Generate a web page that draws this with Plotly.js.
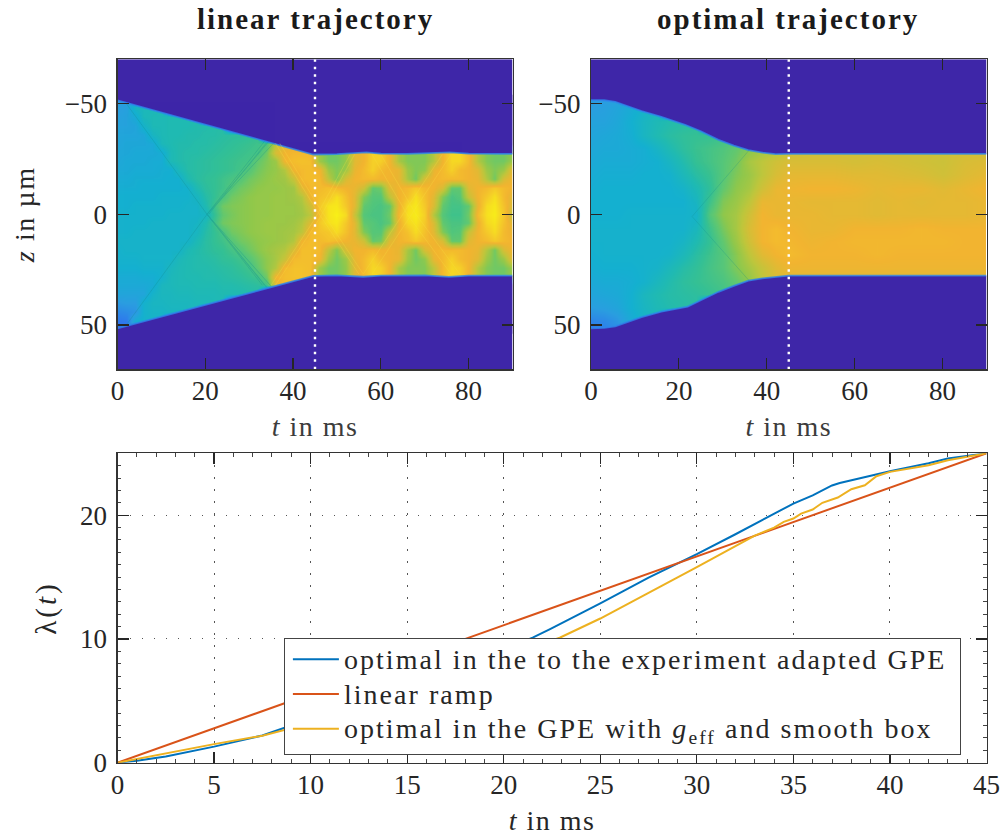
<!DOCTYPE html>
<html><head><meta charset="utf-8">
<script src="https://cdn.plot.ly/plotly-3.0.1.min.js"></script>
<style>
html,body{margin:0;padding:0;background:#fff}
#chart{width:1006px;height:836px}
.legendtext{letter-spacing:2.05px;font-size:28px!important;transform:translate(3px,-2px)}
.legendlines{transform:translate(3px,-2px)}
.legend .bg{width:676px}
.annotation-text{letter-spacing:2px}
.xtitle,.x2title,.x3title{letter-spacing:1.5px}
.ytitle{letter-spacing:1.6px}
.y3title{letter-spacing:3px}
</style></head><body><div id="chart"></div>
<script>
// --- heat maps: density in percent of the colour scale
const linT=[0,2,4,6,8,10,12,14,16,18,20,22,24,26,28,30,32,34,36,38,40,42,44,46,48,50,52,54,56,58,60,62,64,66,68,70,72,74,76,78,80,82,84,86,88,90];
const linZ=[-52,-48,-44,-40,-36,-32,-28,-24,-20,-16,-12,-8,-4,0,4,8,12,16,20,24,28,32,36,40,44,48,52];
const linDensity=[
[27,28,30,38,40],
[28,29,40,42,42,43],
[29,30,34,42,43,43,44,44,44,44],
[30,30,31,38,43,43,44,44,44,45,45,46,46],
[31,31,31,32,40,43,44,44,45,45,46,46,47,48,48,49,50],
[31,32,32,32,33,42,44,45,45,46,46,47,48,49,50,51,52,54,72,80,80,85,85],
[32,32,33,33,33,34,43,45,46,46,47,48,49,50,51,52,53,60,78,84,85,85,85,66,60,60,64,80,84,92,92,84,68,62,62,62,70,84,94,94,86,70,62,60,60,64],
[32,33,33,33,34,34,43,45,46,47,48,49,50,51,52,53,58,62,66,84,87,88,87,66,60,60,64,80,84,92,92,84,68,62,62,62,70,84,94,94,86,70,62,60,60,66],
[33,33,34,34,34,35,35,42,46,47,48,49,50,51,53,56,60,63,65,70,84,86,87,84,66,62,66,82,86,92,86,84,82,66,62,64,82,86,92,86,84,80,66,62,66,82],
[34,34,35,35,35,35,36,36,44,47,49,50,52,54,56,60,62,64,66,67,74,86,87,86,72,62,78,84,86,86,84,84,82,68,60,78,84,86,86,86,84,82,70,60,78,84],
[35,35,35,36,36,36,36,36,37,44,48,50,52,56,60,62,64,65,65,66,67,80,86,86,88,86,84,82,76,58,60,80,84,86,90,86,84,78,58,58,80,84,86,90,86,84],
[36,36,36,36,36,37,37,37,37,40,46,50,54,60,62,64,65,65,66,66,67,70,84,88,90,96,88,80,62,56,56,72,84,88,96,88,80,62,54,56,74,84,90,96,86,80],
[36,36,37,37,37,37,37,37,38,38,44,52,60,62,63,64,65,65,66,66,66,68,76,90,97,98,90,80,58,55,54,58,82,95,98,90,78,58,53,53,58,82,95,98,88,78],
[37,37,37,37,37,37,38,38,38,38,40,50,58,61,63,64,65,65,66,66,66,67,72,88,97,100,95,74,56,54,54,60,85,96,99,92,70,56,52,52,60,86,96,99,90,72],
[37,37,37,37,38,38,38,38,38,39,44,52,60,62,63,64,65,66,66,66,67,70,80,90,96,98,90,80,58,56,54,58,82,94,97,90,78,58,54,54,58,82,94,97,88,80],
[37,37,38,38,38,38,38,38,38,40,46,50,54,60,62,64,65,66,66,67,68,72,86,88,90,95,88,80,62,56,56,72,84,88,95,88,80,62,55,56,74,84,90,95,86,82],
[38,38,38,38,38,38,38,38,38,43,47,50,52,56,60,62,64,65,66,67,70,84,87,86,88,86,84,82,76,58,60,80,84,86,90,86,84,78,58,58,80,84,86,90,86,84],
[37,38,38,38,38,38,38,38,43,45,47,49,50,53,56,60,63,66,68,70,78,87,87,86,72,62,78,84,84,86,84,84,82,68,60,78,84,86,86,86,84,82,70,60,78,84],
[37,37,37,38,38,38,38,42,44,45,46,47,49,50,52,56,60,64,68,74,86,87,87,84,66,60,66,82,86,92,86,84,82,66,60,64,82,86,92,86,84,80,66,60,66,82],
[36,36,36,37,37,37,41,43,44,45,45,46,47,48,50,52,58,64,70,86,88,88,87,66,60,60,64,80,86,94,92,84,68,62,62,62,72,86,94,92,84,70,62,60,60,66],
[34,34,34,35,35,37,42,43,44,44,45,45,46,47,48,50,52,60,84,87,88,88,87,66,60,60,64,80,86,94,92,84,68,62,62,62,72,86,94,92,84,70,62,60,60,66],
[33,33,33,33,34,41,42,43,43,44,44,44,45,45,46,47,48,52,80,86,86,86,86],
[31,31,31,31,38,41,41,42,42,43,43,43,44,44,44,45,45],
[27,28,28,37,40,40,41,41,41,42,42,43,43],
[23,24,26,37,39,39,40,40,41,41],
[19,20,35,37,38,38],
[17,18,30,36,36]
];
const optT=[0,3,6,9,12,15,18,21,24,27,30,33,36,39,42,45,50,55,60,65,70,75,80,85,90];
const optZ=[-54,-48,-42,-36,-30,-24,-18,-12,-6,0,6,12,18,24,30,36,42,48,54];
const optDensity=[
[27,27,28,30,32],
[28,29,31,34,38,40],
[30,30,32,36,40,43,45,46,47],
[31,32,33,35,40,44,47,49,50,50,51,52,54],
[32,33,33,34,35,39,44,48,51,53,55,58,62,66,68,74,76,76,76,76,76,76,76,76,76],
[33,34,34,34,35,36,40,45,50,53,56,60,68,72,76,78,78,78,77,78,77,76,75,78,79],
[34,35,35,35,36,36,37,42,47,51,56,62,66,72,78,81,81,81,80,80,79,78,76,79,81],
[35,36,36,36,36,36,36,38,43,49,58,64,68,76,82,83,84,84,83,81,82,82,80,82,84],
[36,36,36,36,36,36,36,36,40,52,62,66,72,82,82,82,81,81,81,80,81,80,81,81,82],
[36,36,36,37,37,37,37,37,38,56,64,68,76,84,82,82,82,81,81,80,81,81,81,81,82],
[37,37,37,37,37,37,37,37,41,52,61,68,78,84,86,84,82,82,84,84,84,85,84,84,84],
[37,37,37,37,37,37,37,39,44,50,58,66,76,84,86,85,83,84,85,85,85,85,85,84,84],
[36,37,37,37,37,37,38,42,47,52,56,63,72,80,84,86,84,84,84,85,84,84,84,84,84],
[35,36,36,36,37,38,42,46,49,53,56,62,68,74,80,83,83,83,83,83,83,83,83,83,83],
[33,34,34,35,37,41,45,48,50,52,54,58,64,72,78,80,80,80,80,80,80,80,80,80,80],
[31,32,33,36,41,44,46,47,48,50,52,54,58],
[28,29,31,36,40,43,45,46,47],
[22,23,26,33,38,40],
[18,20,24,30]
];
// --- cloud edges (t in ms, z in µm)
const linUpperT=[0,35.5,44.6,50,56.7,60,66,75.7,80,90];
const linUpperZ=[-51.5,-32,-27,-27.2,-28,-27.4,-27.3,-28,-27.4,-27.3];
const linLowerT=[0,35,44.6,50,56,60,70,75.5,80,90];
const linLowerZ=[51.5,32.7,27.8,27.6,28.2,27.7,27.6,28.3,27.7,27.7];
const optUpperT=[0,3,5.5,8,11.5,16,21.4,25,29,32.5,35.8,39,42,45,90];
const optUpperZ=[-51.6,-51.5,-50.8,-49,-46.6,-44,-40.4,-37.5,-33.6,-31,-29,-27.9,-27.2,-27.3,-27.3];
const optLowerT=[0,3,5.5,8,11.5,16,22,25,29,32.5,35.8,39,42,45,90];
const optLowerZ=[51.5,51.3,50.6,48.8,46.4,44,41.7,38.8,35,32.3,30,28.9,28.2,27.7,27.7];
// --- thin wave fronts in the heat maps
const linDarkT=[2,20.4,35,null,2,20.4,35.5,null,20.4,34,null,20.4,34.5,null,20.4,33.5,null,20.4,33.5,null,20.4,33,null,20.8,33.8];
const linDarkZ=[-50,0,32.5,null,50,0,-32,null,0,33,null,0,-33,null,0,32,null,0,-33,null,0,32,null,0,-32];
const linFrontT=[36,45,55,null,37,46,56,null,35,45,53,null,36,46,54,null,58,66,76,null,60,68,78,null,56,65,74,null,58,67,76];
const linFrontZ=[-32,-3,27,null,-32,-3,27,null,32,2,-27,null,32,2,-27,null,-27,0,27,null,-27,0,27,null,27,0,-27,null,27,0,-27];
const optFrontT=[23,36,null,23,36];
const optFrontZ=[1,-29,null,1,30];
// --- schedule lambda(t)
const blueT=[0,1,2.5,5,7.5,8.6,10,12.5,15,17.5,20,21.5,22.4,25,27.5,29.3,30,32,33,34,35,36,37,37.4,38,39,40,42,43,45];
const blueL=[0,0.15,0.5,1.3,2.2,2.8,3.5,4.9,6.2,7.6,9.2,10.1,10.8,12.87,14.95,16.3,16.85,18.46,19.27,20.08,20.94,21.6,22.4,22.6,22.83,23.2,23.55,24.2,24.58,25];
const rampT=[0,45];
const rampL=[0,25];
const amberT=[0,2.5,5,7.5,8.6,10,15,20,22.9,25,27.5,30,32,33,34,34.5,35,35.4,36,36.5,37.3,38,38.7,39.3,40,42,43,45];
const amberL=[0,0.75,1.5,2.18,2.64,3.2,5.8,8.5,10.1,11.65,13.7,15.8,17.5,18.35,19,19.46,19.73,20.13,20.46,21,21.43,22.1,22.42,23.15,23.5,24.04,24.44,25];
const markerT=[45,45];
const markerZ=[-70,70];
const zTicks=[-50,0,50];
const tTicksTop=[0,20,40,60,80];
const tTicksBottom=[0,5,10,15,20,25,30,35,40,45];
const lamTicks=[0,10,20];
const seriesNames=['optimal in the to the experiment adapted GPE','linear ramp','optimal in the GPE with <i>g</i><sub>eff</sub> and smooth box'];

const W=1006,H=836,BG='#3E26A8',SERIF='"Liberation Serif",serif',INK='#262626';
const scale=[[0,BG],[0.12,'#3F4AD8'],[0.17,'#2F6FF0'],[0.28,'#2A9EE0'],[0.36,'#14B0D0'],[0.44,'#20BAB2'],[0.50,'#35C094'],[0.58,'#62C870'],[0.64,'#90C84C'],[0.72,'#BEC63C'],[0.84,'#F2B430'],[0.92,'#F5D028'],[1,'#F8F018']];
const pad=(rows,n)=>rows.map(r=>r.concat(new Array(Math.max(0,n-r.length)).fill(0)));

function panel(xa,ya,T,Z,D,uT,uZ,lT,lZ){
  const ax={xaxis:xa,yaxis:ya,hoverinfo:'skip',showlegend:false};
  return [
    Object.assign({type:'heatmap',x:T,y:Z,z:pad(D,T.length),zmin:0,zmax:100,colorscale:scale,showscale:false,zsmooth:'best'},ax),
    Object.assign({type:'scatter',mode:'lines',x:uT.concat([90,0]),y:uZ.concat([-70,-70]),fill:'toself',fillcolor:BG,line:{width:0,color:BG}},ax),
    Object.assign({type:'scatter',mode:'lines',x:lT.concat([90,0]),y:lZ.concat([70,70]),fill:'toself',fillcolor:BG,line:{width:0,color:BG}},ax),
    Object.assign({type:'scatter',mode:'lines',x:uT,y:uZ,line:{width:1.8,color:'#2E86EE'},opacity:0.8},ax),
    Object.assign({type:'scatter',mode:'lines',x:lT,y:lZ,line:{width:1.8,color:'#2E86EE'},opacity:0.8},ax)
  ];
}
const whiteDots=(xa,ya)=>({type:'scatter',mode:'lines',x:markerT,y:markerZ,xaxis:xa,yaxis:ya,hoverinfo:'skip',showlegend:false,line:{color:'#fff',width:2.4,dash:'2.4px,5.1px'}});
const thin=(xa,ya,x,y,c,o)=>({type:'scatter',mode:'lines',x,y,xaxis:xa,yaxis:ya,hoverinfo:'skip',showlegend:false,connectgaps:false,line:{color:c,width:0.8},opacity:o});
const curve=(x,y,name,c)=>({type:'scatter',mode:'lines',x,y,name,xaxis:'x3',yaxis:'y3',hoverinfo:'skip',line:{color:c,width:2}});

const data=[].concat(
  panel('x','y',linT,linZ,linDensity,linUpperT,linUpperZ,linLowerT,linLowerZ),
  [thin('x','y',linDarkT,linDarkZ,'#128C8C',0.35),thin('x','y',linFrontT,linFrontZ,'#F8E040',0.35),whiteDots('x','y')],
  panel('x2','y2',optT,optZ,optDensity,optUpperT,optUpperZ,optLowerT,optLowerZ),
  [thin('x2','y2',optFrontT,optFrontZ,'#128C8C',0.3),whiteDots('x2','y2')],
  [curve(blueT,blueL,seriesNames[0],'#0072BD'),curve(rampT,rampL,seriesNames[1],'#D95319'),curve(amberT,amberL,seriesNames[2],'#EDB120')]
);
const dx=(a,b)=>[a/W,b/W], dy=(t,b)=>[1-b/H,1-t/H];
const tf={family:SERIF,size:27,color:INK};
const tTitle=t=>({text:t,font:{family:SERIF,size:28,color:'#3c3c3c'},standoff:11});
const imgX=(dom,anchor,text)=>({domain:dom,anchor,range:[0,90],tickmode:'array',tickvals:tTicksTop,ticks:'inside',ticklen:11,tickwidth:1.2,tickcolor:INK,mirror:'allticks',showline:true,linecolor:'#333',linewidth:1.2,showgrid:false,zeroline:false,tickfont:tf,ticklabelstandoff:-3,title:tTitle(text)});
const imgY=(anchor,title)=>{const a={domain:dy(59.3,369.3),anchor,range:[70,-70],tickmode:'array',tickvals:zTicks,ticks:'inside',ticklen:11,tickwidth:1.2,tickcolor:INK,mirror:'allticks',showline:true,linecolor:'#333',linewidth:1.2,showgrid:false,zeroline:false,tickfont:tf,ticklabelstandoff:4};if(title)a.title=title;return a;};
const sub=(x,y,text)=>({xref:'paper',yref:'paper',x:x/W,y:1-y/H,xanchor:'center',yanchor:'middle',showarrow:false,text,font:{family:SERIF,size:29,color:'#1a1a1a',weight:700}});
const layout={
  width:W,height:H,margin:{l:0,r:0,t:0,b:0},paper_bgcolor:'#fff',plot_bgcolor:'#fff',autosize:false,
  xaxis:imgX(dx(117.5,512.5),'y','<i>t</i> in ms'),
  yaxis:imgY('x',{text:'<i>z</i> in µm',font:{family:SERIF,size:28,color:INK},standoff:21}),
  xaxis2:imgX(dx(591,986.5),'y2','<i>t</i> in ms'),
  yaxis2:imgY('x2'),
  xaxis3:{domain:dx(117.5,986.5),anchor:'y3',range:[0,45],tickmode:'array',tickvals:tTicksBottom,ticks:'inside',ticklen:11,tickwidth:1.2,tickcolor:INK,mirror:'allticks',showline:true,linecolor:'#333',linewidth:1.2,showgrid:true,gridcolor:'#555',gridwidth:1,griddash:'1.2px,10.8px',zeroline:false,tickfont:tf,ticklabelstandoff:-2,title:{text:'<i>t</i> in ms',font:{family:SERIF,size:28,color:INK},standoff:11},minor:{ticks:'inside',ticklen:3.5,tickcolor:'#444',tickwidth:1,dtick:1,tick0:0,showgrid:false}},
  yaxis3:{domain:dy(453.3,762.7),anchor:'x3',range:[0,25],tickmode:'array',tickvals:lamTicks,ticks:'inside',ticklen:11,tickwidth:1.2,tickcolor:INK,mirror:'allticks',showline:true,linecolor:'#333',linewidth:1.2,showgrid:true,gridcolor:'#555',gridwidth:1,griddash:'1.2px,10.8px',zeroline:false,tickfont:tf,ticklabelstandoff:4,title:{text:'λ(<i>t</i>)',font:{family:SERIF,size:29,color:INK},standoff:14},minor:{ticks:'inside',ticklen:3.5,tickcolor:'#444',tickwidth:1,dtick:1,tick0:0,showgrid:false}},
  showlegend:true,
  legend:{x:283.7/W,y:1-637.7/H,xanchor:'left',yanchor:'top',bgcolor:'#fff',bordercolor:'#444',borderwidth:1.2,font:{family:SERIF,size:24.4,color:INK},itemwidth:46,itemclick:false,itemdoubleclick:false,tracegroupgap:0,traceorder:'normal'},
  annotations:[sub(315,19,'linear trajectory'),sub(788,19,'optimal trajectory')]
};
Plotly.newPlot('chart',data,layout,{displayModeBar:false,staticPlot:true});
</script></body></html>
